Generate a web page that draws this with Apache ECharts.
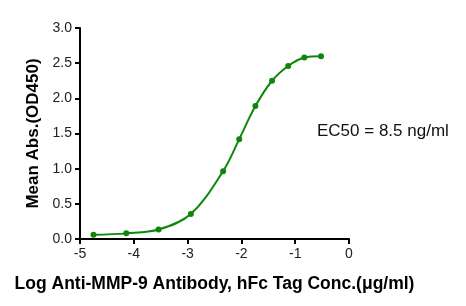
<!DOCTYPE html>
<html>
<head>
<meta charset="utf-8">
<script src="https://cdn.jsdelivr.net/npm/echarts@6/dist/echarts.min.js"></script>
<style>
html,body{margin:0;padding:0;background:#fff;}
#c{width:466px;height:306px;}
</style>
</head>
<body>
<div id="c"></div>
<script>
var logConc = [-4.75, -4.14, -3.54, -2.94, -2.34, -2.04, -1.74, -1.43, -1.13, -0.83, -0.52];
var meanAbs = [0.06, 0.08, 0.135, 0.355, 0.965, 1.42, 1.89, 2.25, 2.46, 2.58, 2.60];
var xTicks = [-5, -4, -3, -2, -1, 0];
var yTicks = [0, 0.5, 1.0, 1.5, 2.0, 2.5, 3.0];
var xTitle = 'Log Anti-MMP-9 Antibody, hFc Tag Conc.(\u03bcg/ml)';
var yTitle = 'Mean Abs.(OD450)';
var ec50Text = 'EC50 = 8.5 ng/ml';

var green = '#0c870c';
var pts = logConc.map(function(x, i){ return [x, meanAbs[i]]; });
var chart = echarts.init(document.getElementById('c'), null, {renderer:'canvas'});
chart.setOption({
  animation:false,
  backgroundColor:'#fff',
  grid:{left:80, right:117, top:28, bottom:67, containLabel:false},
  xAxis:{
    type:'value', min:xTicks[0], max:xTicks[xTicks.length-1], interval:1,
    name:xTitle, nameLocation:'middle', nameGap:36,
    nameTextStyle:{fontFamily:'Liberation Sans, Arial', fontWeight:'bold', fontSize:17.5, color:'#000'},
    axisLine:{show:true, onZero:false, lineStyle:{color:'#000', width:2}},
    axisTick:{show:true, length:5, lineStyle:{color:'#000', width:2}},
    axisLabel:{fontFamily:'Liberation Sans, Arial', fontSize:14, color:'#222', margin:8},
    splitLine:{show:false}
  },
  yAxis:{
    type:'value', min:yTicks[0], max:yTicks[yTicks.length-1], interval:0.5,
    name:yTitle, nameLocation:'middle', nameGap:38, nameRotate:90,
    nameTextStyle:{fontFamily:'Liberation Sans, Arial', fontWeight:'bold', fontSize:17, color:'#000'},
    axisLine:{show:true, onZero:false, lineStyle:{color:'#000', width:2}},
    axisTick:{show:true, length:5, lineStyle:{color:'#000', width:2}},
    axisLabel:{fontFamily:'Liberation Sans, Arial', fontSize:14, color:'#222', margin:8,
      formatter:function(v){ return v.toFixed(1); }},
    splitLine:{show:false}
  },
  series:[{
    type:'line', data:pts, smooth:0.35,
    symbol:'circle', symbolSize:6,
    lineStyle:{color:green, width:2},
    itemStyle:{color:green}
  }],
  graphic:[{
    type:'text', left:317, top:123,
    style:{text:ec50Text, font:'17px "Liberation Sans", Arial', fill:'#111'}
  }]
});
</script>
</body>
</html>
